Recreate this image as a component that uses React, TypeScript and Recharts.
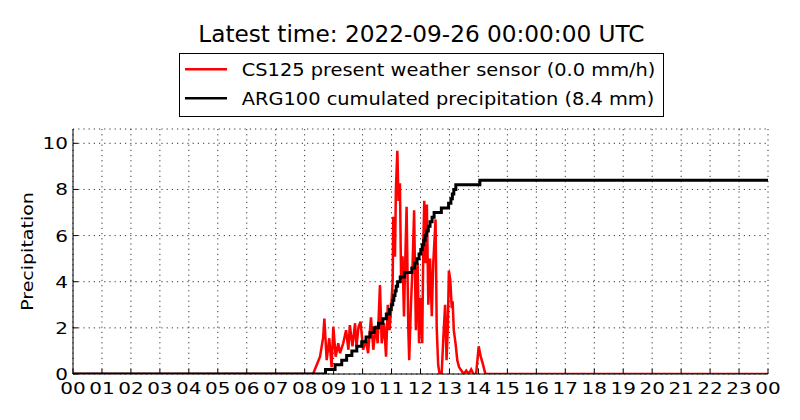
import { LineChart, Line, XAxis, YAxis, CartesianGrid } from "recharts";

// CS125 rain rate (mm/h), sampled by hour of day
const rainHours = [
  0, 8.29, 8.53, 8.64, 8.68, 8.76, 8.85, 8.93, 8.99, 9.07, 9.16, 9.22, 9.33, 9.43, 9.51, 9.56, 9.65, 9.74,
  9.79, 9.86, 9.93, 10.02, 10.11, 10.19, 10.29, 10.37, 10.46, 10.52, 10.6, 10.66, 10.74, 10.81, 10.87, 10.93,
  10.98, 11.04, 11.06, 11.12, 11.15, 11.2, 11.24, 11.29, 11.33, 11.38, 11.43, 11.46, 11.52, 11.58, 11.61,
  11.67, 11.72, 11.78, 11.84, 11.9, 11.95, 12.0, 12.06, 12.1, 12.13, 12.18, 12.22, 12.27, 12.33, 12.39,
  12.44, 12.52, 12.56, 12.61, 12.66, 12.73, 12.79, 12.85, 12.9, 12.94, 12.98, 13.03, 13.08, 13.11, 13.15,
  13.21, 13.27, 13.33, 13.41, 13.49, 13.58, 13.66, 13.75, 13.83, 13.92, 14.01, 14.08, 14.15, 14.23, 14.28, 24,
];
const rainRates = [
  0, 0, 0.75, 1.6, 2.4, 0.6, 1.55, 0.3, 2.05, 0.75, 1.33, 0.9, 1.33, 1.9, 1.05, 2.12, 1.2, 2.2,
  1.2, 2.05, 2.27, 1.05, 1.5, 0.9, 2.46, 1.05, 2.1, 1.33, 3.86, 1.33, 2.2, 0.75, 3.0, 1.9,
  2.7, 4.07, 6.82, 5.08, 7.98, 9.68, 7.5, 8.27, 4.07, 5.1, 2.49, 4.2, 7.25, 1.9, 0.6,
  3.0, 4.5, 7.1, 1.9, 4.8, 1.33, 3.3, 1.33, 5.8, 7.51, 4.8, 7.35, 3.0, 5.0, 2.5,
  4.8, 6.7, 2.0, 0.4, 0, 0, 1.6, 3.0, 0.6, 1.9, 4.48, 4.07, 2.85, 3.15, 1.9,
  1.33, 0.6, 0.3, 0.15, 0, 0.15, 0, 0.2, 0, 0, 1.2, 0.75, 0.45, 0.05, 0, 0,
];

// ARG100 tipping bucket, cumulated mm
const gaugeHours = [
  0, 8.72, 9.05, 9.28, 9.45, 9.63, 9.8, 9.97, 10.12, 10.26, 10.4, 10.55, 10.7, 10.82, 10.93, 10.99, 11.04,
  11.08, 11.12, 11.16, 11.21, 11.3, 11.45, 11.7, 11.8, 11.88, 11.95, 12.01, 12.06, 12.11, 12.16, 12.21,
  12.27, 12.33, 12.4, 12.47, 12.72, 12.97, 13.05, 13.1, 13.15, 13.22, 14.05, 24,
];
const gaugeTotals = [
  0, 0.2, 0.4, 0.6, 0.8, 1.0, 1.2, 1.4, 1.6, 1.8, 2.0, 2.2, 2.4, 2.6, 2.8, 3.0, 3.2,
  3.4, 3.6, 3.8, 4.0, 4.2, 4.4, 4.6, 4.8, 5.0, 5.2, 5.4, 5.6, 5.8, 6.0, 6.2,
  6.4, 6.6, 6.8, 7.0, 7.2, 7.4, 7.6, 7.8, 8.0, 8.2, 8.4, 8.4,
];

const hourTicks = Array.from({ length: 25 }, (_, i) => i);
const valueTicks = [0, 2, 4, 6, 8, 10];

const title = "Latest time: 2022-09-26 00:00:00 UTC";
const rainLabel = "CS125 present weather sensor (0.0 mm/h)";
const gaugeLabel = "ARG100 cumulated precipitation (8.4 mm)";

const rainData = rainHours.map((h, i) => ({ h, v: rainRates[i] }));
const gaugeData = gaugeHours.map((h, i) => ({ h, v: gaugeTotals[i] }));

const FONT = "DejaVu Sans, sans-serif";

// glyphs in the original are a bit flatter than DejaVu, so squash them a little
const BottomTick = ({ x, y, payload }: any) => (
  <g>
    <line x1={x} x2={x} y1={y} y2={y - 5} stroke="#000" />
    <text
      transform={`translate(${x} ${y + 20.3}) scale(1 0.83)`}
      textAnchor="middle"
      fontSize={20}
      fontFamily={FONT}
      fill="#000"
    >
      {String(payload.value % 24).padStart(2, "0")}
    </text>
  </g>
);

const TopTick = ({ x, y }: any) => <line x1={x} x2={x} y1={y} y2={y + 5} stroke="#000" />;

const LeftTick = ({ x, y, payload }: any) => (
  <g>
    <line x1={x} x2={x + 5} y1={y} y2={y} stroke="#000" />
    <text
      transform={`translate(${x - 5} ${y + 6}) scale(1 0.83)`}
      textAnchor="end"
      fontSize={20}
      fontFamily={FONT}
      fill="#000"
    >
      {payload.value}
    </text>
  </g>
);

const RightTick = ({ x, y }: any) => <line x1={x} x2={x - 5} y1={y} y2={y} stroke="#000" />;

export default function App() {
  return (
    <div style={{ position: "absolute", left: 0, top: 0, width: 800, height: 420, background: "#fff" }}>
      <LineChart width={800} height={420} margin={{ top: 129, right: 32, bottom: 16, left: 0 }}>
        <CartesianGrid stroke="#000" strokeWidth={0.8} strokeDasharray="1.2 4" />
        <XAxis
          dataKey="h"
          type="number"
          domain={[0, 24]}
          ticks={hourTicks}
          interval={0}
          height={30}
          tickSize={0}
          tickMargin={0}
          tickLine={false}
          tick={<BottomTick />}
          axisLine={{ stroke: "#000" }}
          allowDataOverflow
        />
        <XAxis
          xAxisId="top"
          orientation="top"
          type="number"
          domain={[0, 24]}
          ticks={hourTicks}
          interval={0}
          height={0}
          tickSize={0}
          tickMargin={0}
          tickLine={false}
          tick={<TopTick />}
          axisLine={{ stroke: "#000" }}
        />
        <YAxis
          type="number"
          domain={[0, 10.62]}
          ticks={valueTicks}
          width={73}
          tickSize={0}
          tickMargin={0}
          tickLine={false}
          tick={<LeftTick />}
          axisLine={{ stroke: "#000" }}
          allowDataOverflow
        />
        <YAxis
          yAxisId="right"
          orientation="right"
          type="number"
          domain={[0, 10.62]}
          ticks={valueTicks}
          width={0}
          tickSize={0}
          tickMargin={0}
          tickLine={false}
          tick={<RightTick />}
          axisLine={{ stroke: "#000" }}
        />
        <Line
          data={rainData}
          dataKey="v"
          type="linear"
          stroke="#ff0000"
          strokeWidth={2.5}
          dot={false}
          isAnimationActive={false}
        />
        <Line
          data={gaugeData}
          dataKey="v"
          type="stepAfter"
          stroke="#000"
          strokeWidth={3}
          dot={false}
          isAnimationActive={false}
        />
      </LineChart>
      <svg
        width={800}
        height={420}
        style={{ position: "absolute", left: 0, top: 0, pointerEvents: "none" }}
        fontFamily={FONT}
      >
        <text x={421.4} y={41.7} textAnchor="middle" fontSize={23.2} fill="#000">
          {title}
        </text>
        <rect x={179.5} y={53.5} width={484} height={63} fill="#fff" stroke="#000" />
        <line x1={185} x2={227} y1={69.3} y2={69.3} stroke="#ff0000" strokeWidth={2.5} />
        <text transform="translate(241.7 75.7) scale(1 0.88)" fontSize={19.4} fill="#000">
          {rainLabel}
        </text>
        <line x1={185} x2={227} y1={98.3} y2={98.3} stroke="#000" strokeWidth={2.5} />
        <text transform="translate(241.7 105) scale(1 0.88)" fontSize={19.4} fill="#000">
          {gaugeLabel}
        </text>
        <text
          transform="translate(28 251.5) rotate(-90) scale(1 0.85)"
          textAnchor="middle"
          dominantBaseline="central"
          fontSize={19}
          fill="#000"
        >
          Precipitation
        </text>
      </svg>
    </div>
  );
}
